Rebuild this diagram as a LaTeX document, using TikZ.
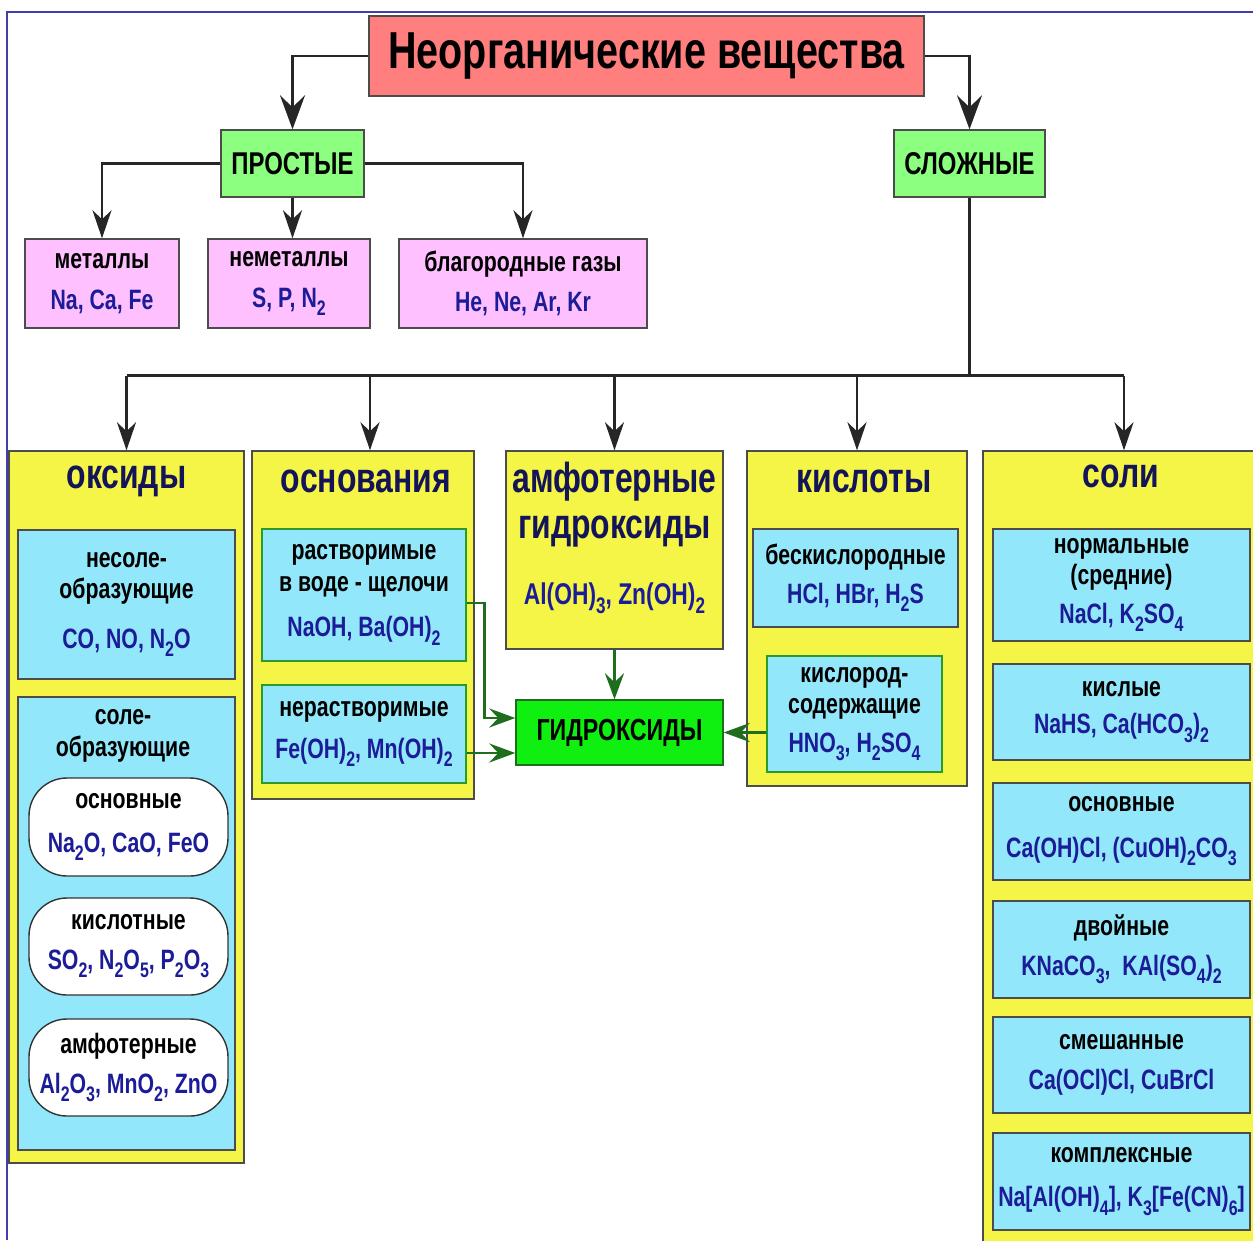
\documentclass[tikz,border=0pt]{standalone}
\usepackage{fontspec}
\setmainfont{Liberation Sans}[FakeStretch=0.76]
\usetikzlibrary{arrows.meta,calc}
\definecolor{framecol}{HTML}{4040A8}
\definecolor{titlered}{HTML}{FF7F7F}
\definecolor{lgreen}{HTML}{8CFF80}
\definecolor{pinkbox}{HTML}{FFC0FF}
\definecolor{yelbox}{HTML}{F5F548}
\definecolor{cyanbox}{HTML}{92E8FA}
\definecolor{bgreen}{HTML}{10F010}
\definecolor{dgreen}{HTML}{1E6E1E}
\definecolor{navy}{HTML}{141458}
\definecolor{fcol}{HTML}{1C1C98}
\definecolor{gborder}{HTML}{2A9A2A}
\newcommand\fm[1]{{\color{fcol}#1}}
\newcommand\ix[1]{\raisebox{-0.3em}{\scalebox{0.75}{#1}}}
\newcommand\labfont{\bfseries\fontsize{28}{31.5}\selectfont}
\begin{document}
\begin{tikzpicture}[x=1pt,y=-1pt,
  every node/.style={inner sep=0pt, align=center},
  box/.style={draw=black!70, line width=1.4pt, font=\labfont},
  cbox/.style={box, fill=cyanbox},
  ybox/.style={box, fill=yelbox},
  pbox/.style={box, fill=pinkbox},
  gbox/.style={box, fill=lgreen, font=\bfseries\fontsize{31.5}{33}\selectfont},
  rbox/.style={box, fill=white, draw=black!80, rounded corners=38pt},
  gbrd/.style={draw=gborder, line width=2.2pt},
  head/.style={font=\bfseries\fontsize{42}{46}\selectfont, text=navy},
  conn/.style={line width=2.6pt, draw=black!85},
  arrbig/.style={conn, -{Stealth[length=34pt,width=25pt,inset=12pt]}},
  arrmid/.style={conn, -{Stealth[length=28pt,width=19pt,inset=9pt]}},
  garr/.style={line width=2.8pt, draw=dgreen, -{Stealth[length=26pt,width=19pt,inset=9pt]}}
]
\useasboundingbox (0,0) rectangle (1253,1240);
\fill[white] (0,0) rectangle (1253,1240);
\draw[framecol, line width=2pt] (1253,12) -- (7,12) -- (7,1240);

% top level
\node[box, fill=titlered, minimum width=555pt, minimum height=80pt, font=\bfseries\fontsize{52}{52}\selectfont] (title) at (646.5,56) {Неорганические вещества};
\node[gbox, minimum width=143pt, minimum height=67pt] (prost) at (292.5,163.5) {ПРОСТЫЕ};
\node[gbox, minimum width=151pt, minimum height=67pt] (slozh) at (969.5,163.5) {СЛОЖНЫЕ};

\node[pbox, minimum width=154pt, minimum height=89pt] (met) at (102,283.5) {металлы\\[9pt]\fm{Na, Ca, Fe}};
\node[pbox, minimum width=162pt, minimum height=89pt] (nemet) at (289,283.5) {неметаллы\\[9pt]\fm{S, P, N\ix{2}}};
\node[pbox, minimum width=248pt, minimum height=89pt] (blag) at (523,283.5) {благородные газы\\[9pt]\fm{He, Ne, Ar, Kr}};

% oxides
\node[ybox, minimum width=235pt, minimum height=712pt] (oks) at (126.5,807) {};
\node[head] (oksT) at (126.5,481) {оксиды};
\node[cbox, minimum width=217pt, minimum height=149pt] (nesol) at (126.5,604.5) {несоле-\\образующие\\[18pt]\fm{CO, NO, N\ix{2}O}};
\node[cbox, minimum width=217pt, minimum height=453pt] (sol) at (126.5,923.5) {};
\node[font=\labfont] (solT) at (123,736) {соле-\\образующие};
\node[rbox, minimum width=199pt, minimum height=98pt] (osnO) at (128.5,827) {основные\\[13pt]\fm{Na\ix{2}O, CaO, FeO}};
\node[rbox, minimum width=199pt, minimum height=97pt] (kislO) at (128.5,946.5) {кислотные\\[8pt]\fm{SO\ix{2}, N\ix{2}O\ix{5}, P\ix{2}O\ix{3}}};
\node[rbox, minimum width=199pt, minimum height=97pt] (amfO) at (128.5,1067.5) {амфотерные\\[8pt]\fm{Al\ix{2}O\ix{3}, MnO\ix{2}, ZnO}};

% bases
\node[ybox, minimum width=222pt, minimum height=348pt] (osn) at (363,625) {};
\node[head] (osnT) at (366,481) {основания};
\node[cbox, gbrd, minimum width=204pt, minimum height=132pt] (rast) at (364,595) {растворимые\\в воде - щелочи\\[14pt]\fm{NaOH, Ba(OH)\ix{2}}};
\node[cbox, gbrd, minimum width=204pt, minimum height=98pt] (nerast) at (364,734) {нерастворимые\\[10pt]\fm{Fe(OH)\ix{2}, Mn(OH)\ix{2}}};

% amphoteric hydroxides
\node[ybox, minimum width=217pt, minimum height=198pt] (amf) at (614.5,550) {};
\node[head] (amfT) at (614.5,505) {амфотерные\\гидроксиды};
\node[font=\bfseries\fontsize{30}{32}\selectfont] (amfF) at (614.5,598) {\fm{Al(OH)\ix{3}, Zn(OH)\ix{2}}};
\node[box, fill=bgreen, draw=dgreen, minimum width=207pt, minimum height=65pt, font=\bfseries\fontsize{30.5}{32}\selectfont] (gidr) at (619.5,732.5) {ГИДРОКСИДЫ};

% acids
\node[ybox, minimum width=220pt, minimum height=335pt] (kisl) at (857,618.5) {};
\node[head] (kislT) at (864,481) {кислоты};
\node[cbox, minimum width=205pt, minimum height=98pt] (bes) at (855.5,578) {бескислородные\\[7pt]\fm{HCl, HBr, H\ix{2}S}};
\node[cbox, gbrd, minimum width=175pt, minimum height=116pt] (kso) at (854.5,714) {кислород-\\содержащие\\[7pt]\fm{HNO\ix{3}, H\ix{2}SO\ix{4}}};

% salts
\node[ybox, minimum width=282pt, minimum height=820pt] (soli) at (1124,861) {};
\node[head] (soliT) at (1121,476) {соли};
\node[cbox, minimum width=257pt, minimum height=112pt] (norm) at (1121.5,585) {нормальные\\(средние)\\[7pt]\fm{NaCl, K\ix{2}SO\ix{4}}};
\node[cbox, minimum width=257pt, minimum height=96pt] (kisS) at (1121.5,712) {кислые\\[6pt]\fm{NaHS, Ca(HCO\ix{3})\ix{2}}};
\node[cbox, minimum width=257pt, minimum height=97pt] (osnS) at (1121.5,831.5) {основные\\[14pt]\fm{Ca(OH)Cl, (CuOH)\ix{2}CO\ix{3}}};
\node[cbox, minimum width=257pt, minimum height=97pt] (dvo) at (1121.5,949.5) {двойные\\[8pt]\fm{KNaCO\ix{3},\ \ KAl(SO\ix{4})\ix{2}}};
\node[cbox, minimum width=257pt, minimum height=96pt] (sme) at (1121.5,1065) {смешанные\\[9pt]\fm{Ca(OCl)Cl, CuBrCl}};
\node[cbox, minimum width=257pt, minimum height=97pt] (kom) at (1121.5,1181.5) {комплексные\\[13pt]\fm{Na[Al(OH)\ix{4}], K\ix{3}[Fe(CN)\ix{6}]}};

% connectors
\draw[arrbig] (title.west) -| (prost.north);
\draw[arrbig] (title.east) -| (slozh.north);
\draw[arrmid] (prost.west) -| (met.north);
\draw[arrmid] (prost.south) -- (prost.south |- nemet.north);
\draw[arrmid] (prost.east) -| (blag.north);
\coordinate (hub) at ($(slozh.south)+(0,178)$);
\draw[conn] (slozh.south) -- (hub);
\draw[conn] (oks.north |- hub) -- (soli.north |- hub);
\draw[arrmid] (oks.north |- hub) -- (oks.north);
\coordinate (osnIn) at ($(osn.north)+(7,0)$);
\draw[arrmid] (osnIn |- hub) -- (osnIn);
\draw[arrmid] (amf.north |- hub) -- (amf.north);
\draw[arrmid] (kisl.north |- hub) -- (kisl.north);
\draw[arrmid] (soli.north |- hub) -- (soli.north);

\coordinate (r1) at ($(rast.east)+(0,8)$);
\draw[garr] (r1) -- ++(17,0) |- ($(gidr.west)+(0,-14.5)$);
\draw[garr] ($(nerast.east)+(0,19)$) -- ($(gidr.west)+(0,20.5)$);
\draw[garr] (amf.south) -- (amf.south |- gidr.north);
\draw[garr] (kso.west |- gidr.east) -- (gidr.east);
\end{tikzpicture}
\end{document}
